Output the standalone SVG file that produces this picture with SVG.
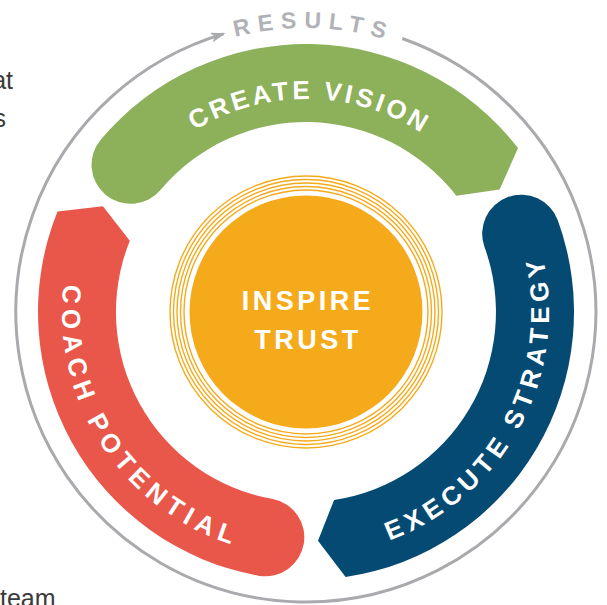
<svg xmlns="http://www.w3.org/2000/svg" xmlns:xlink="http://www.w3.org/1999/xlink" width="607" height="605" viewBox="0 0 607 605">
<style>
.lbl{font-family:"Liberation Sans",Arial,sans-serif;font-weight:bold;fill:#ffffff}
.res{font-family:"Liberation Sans",Arial,sans-serif;font-weight:bold;fill:#b0b2b5;font-size:23px;letter-spacing:7.5px}
.frag{font-family:"Liberation Sans",Arial,sans-serif;fill:#3a3a3a;font-size:25px}
.ring{fill:none;stroke:#f5aa1c;stroke-width:1.4}
</style>
<defs>
<marker id="ah" markerUnits="userSpaceOnUse" markerWidth="16" markerHeight="12" refX="13" refY="5" orient="auto">
<path d="M0,0 L15,5 L0,10 L4,5 Z" fill="#a9aaad"/>
</marker>
<path id="pRes" d="M63.9,163.6 A284,284 0 0 1 555.6,176.5"/>
<path id="pGreen" d="M123.4,202.3 A213,213 0 0 1 492.3,208.7"/>
<path id="pBlue" d="M314.5,554.9 A243,243 0 0 0 512.1,183.2"/>
<path id="pRed" d="M87.6,203.1 A244,244 0 0 0 320.9,555.5"/>
</defs>
<g id="fragments">
<text class="frag" x="13" y="89" text-anchor="end">at</text>
<text class="frag" x="6" y="127" text-anchor="end">s</text>
<text class="frag" x="0" y="607" font-size="26">team</text>
</g>
<g id="connectors">
<path d="M402.3,38.5 A290,290 0 1 1 223.6,33.9" fill="none" stroke="#a9aaad" stroke-width="3" marker-end="url(#ah)"/>
</g>
<g id="results">
<text class="res"><textPath xlink:href="#pRes" href="#pRes" startOffset="50%" text-anchor="middle">RESULTS</textPath></text>
</g>
<g id="create-vision">
<path d="M100.7,139.7 A268,268 0 0 1 518,148.1 L499.6,189.6 L456.3,195.8 A190,190 0 0 0 160.5,189.9 A39,39 0 0 1 100.7,139.7 Z" fill="#8db05a"/>
<text class="lbl" font-size="26" letter-spacing="3.2"><textPath xlink:href="#pGreen" href="#pGreen" startOffset="50%" text-anchor="middle">CREATE VISION</textPath></text>
</g>
<g id="execute-strategy">
<path d="M557.8,220.3 A268,268 0 0 1 345.6,577.1 L318,540.7 L334.1,499.9 A190,190 0 0 0 484.5,247 A39,39 0 0 1 557.8,220.3 Z" fill="#054a73"/>
<text class="lbl" font-size="26" letter-spacing="5.4"><textPath xlink:href="#pBlue" href="#pBlue" startOffset="50%" text-anchor="middle">EXECUTE STRATEGY</textPath></text>
</g>
<g id="coach-potential">
<path d="M259.5,575.9 A268,268 0 0 1 57.5,211.6 L102.9,206.3 L129.8,240.8 A190,190 0 0 0 273,499.1 A39,39 0 0 1 259.5,575.9 Z" fill="#e9574a"/>
<text class="lbl" font-size="26" letter-spacing="6"><textPath xlink:href="#pRed" href="#pRed" startOffset="50%" text-anchor="middle">COACH POTENTIAL</textPath></text>
</g>
<g id="inspire-trust">
<circle class="ring" cx="306" cy="312" r="122"/>
<circle class="ring" cx="306" cy="312" r="125.5"/>
<circle class="ring" cx="306" cy="312" r="129"/>
<circle class="ring" cx="306" cy="312" r="132.5"/>
<circle class="ring" cx="306" cy="312" r="136"/>
<circle cx="306" cy="312" r="116.5" fill="#f5aa1c"/>
<text class="lbl" font-size="27" letter-spacing="3.5" x="308" y="310" text-anchor="middle">INSPIRE</text>
<text class="lbl" font-size="27" letter-spacing="3.5" x="308" y="349" text-anchor="middle">TRUST</text>
</g>
</svg>
